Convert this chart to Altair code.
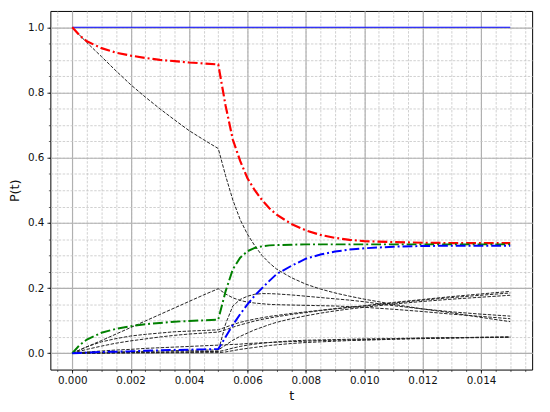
import altair as alt
import pandas as pd

T = [0.0, 0.00025, 0.0005, 0.001, 0.0015, 0.002, 0.0025, 0.003, 0.0035, 0.004, 0.0045, 0.005,
     0.00525, 0.0055, 0.00575, 0.006, 0.00625, 0.0065, 0.00675, 0.007, 0.0075, 0.008, 0.0085,
     0.009, 0.0095, 0.01, 0.011, 0.012, 0.013, 0.014, 0.015]

TOTAL = [1.0, 1.0, 1.0, 1.0, 1.0, 1.0, 1.0, 1.0, 1.0, 1.0, 1.0, 1.0, 1.0, 1.0, 1.0, 1.0,
         1.0, 1.0, 1.0, 1.0, 1.0, 1.0, 1.0, 1.0, 1.0, 1.0, 1.0, 1.0, 1.0, 1.0, 1.0]
RED = [1.0, 0.975, 0.957, 0.936, 0.922, 0.913, 0.906, 0.900, 0.896, 0.892, 0.889, 0.886,
       0.76, 0.655, 0.59, 0.537, 0.5, 0.47, 0.445, 0.425, 0.397, 0.377, 0.363, 0.354, 0.348,
       0.344, 0.341, 0.339, 0.338, 0.338, 0.338]
GREEN = [0.0, 0.025, 0.042, 0.063, 0.075, 0.083, 0.089, 0.093, 0.097, 0.099, 0.101, 0.103,
         0.19, 0.258, 0.293, 0.313, 0.323, 0.328, 0.331, 0.332, 0.333, 0.334, 0.334, 0.334,
         0.334, 0.334, 0.334, 0.334, 0.334, 0.334, 0.334]
BLUE = [0.0, 0.001, 0.002, 0.004, 0.005, 0.006, 0.008, 0.009, 0.010, 0.011, 0.012, 0.013,
        0.05, 0.087, 0.12, 0.15, 0.177, 0.2, 0.222, 0.243, 0.268, 0.29, 0.303, 0.312, 0.318,
        0.322, 0.327, 0.329, 0.33, 0.33, 0.33]

K1 = [1.0, 0.976, 0.953, 0.91, 0.866, 0.824, 0.786, 0.75, 0.716, 0.683, 0.655, 0.628,
      0.545, 0.47, 0.41, 0.365, 0.33, 0.3, 0.277, 0.258, 0.232, 0.212, 0.197, 0.185, 0.175,
      0.166, 0.15, 0.136, 0.124, 0.11, 0.097]
K2 = [0.0, 0.01, 0.02, 0.039, 0.059, 0.079, 0.099, 0.119, 0.139, 0.159, 0.179, 0.198,
      0.182, 0.17, 0.162, 0.157, 0.154, 0.152, 0.15, 0.149, 0.148, 0.147, 0.146, 0.145,
      0.143, 0.141, 0.135, 0.128, 0.12, 0.113, 0.106]
K3 = [0.0, 0.0, 0.001, 0.001, 0.002, 0.002, 0.003, 0.003, 0.004, 0.004, 0.005, 0.006,
      0.09, 0.145, 0.165, 0.175, 0.181, 0.183, 0.183, 0.182, 0.179, 0.175, 0.171, 0.167,
      0.163, 0.158, 0.146, 0.136, 0.127, 0.12, 0.114]
U1 = [0.0, 0.01, 0.02, 0.035, 0.045, 0.053, 0.058, 0.062, 0.066, 0.068, 0.07, 0.072,
      0.08, 0.088, 0.095, 0.1, 0.105, 0.109, 0.113, 0.116, 0.122, 0.127, 0.132, 0.137,
      0.141, 0.145, 0.154, 0.163, 0.171, 0.178, 0.185]
U2 = [0.0, 0.006, 0.012, 0.022, 0.031, 0.038, 0.044, 0.05, 0.055, 0.059, 0.062, 0.065,
      0.072, 0.08, 0.087, 0.093, 0.099, 0.104, 0.108, 0.112, 0.119, 0.125, 0.131, 0.136,
      0.141, 0.146, 0.156, 0.165, 0.174, 0.182, 0.19]
U3 = [0.0, 0.001, 0.002, 0.003, 0.004, 0.005, 0.006, 0.007, 0.008, 0.009, 0.0095, 0.01,
      0.025, 0.04, 0.052, 0.062, 0.072, 0.08, 0.088, 0.095, 0.106, 0.115, 0.123, 0.13,
      0.136, 0.141, 0.151, 0.159, 0.166, 0.172, 0.178]
B1 = [0.0, 0.002, 0.004, 0.007, 0.01, 0.012, 0.015, 0.017, 0.019, 0.021, 0.023, 0.025,
      0.026, 0.027, 0.028, 0.03, 0.031, 0.032, 0.033, 0.034, 0.036, 0.037, 0.039, 0.04,
      0.041, 0.042, 0.044, 0.046, 0.047, 0.049, 0.05]
B2 = [0.0, 0.0, 0.001, 0.001, 0.002, 0.002, 0.003, 0.003, 0.004, 0.004, 0.005, 0.005,
      0.01, 0.016, 0.021, 0.025, 0.028, 0.031, 0.033, 0.035, 0.038, 0.04, 0.041, 0.042,
      0.043, 0.044, 0.045, 0.047, 0.048, 0.049, 0.05]
B3 = [0.0, 0.0, 0.0, 0.0005, 0.0007, 0.001, 0.001, 0.0013, 0.0015, 0.0017, 0.0019, 0.002,
      0.004, 0.008, 0.012, 0.015, 0.018, 0.021, 0.024, 0.026, 0.03, 0.033, 0.035, 0.037,
      0.039, 0.04, 0.043, 0.045, 0.047, 0.048, 0.049]

X_MAJOR = [0.0, 0.002, 0.004, 0.006, 0.008, 0.010, 0.012, 0.014]
X_MINOR = [-0.0005, 0.0, 0.0005, 0.001, 0.0015, 0.002, 0.0025, 0.003, 0.0035, 0.004, 0.0045,
           0.005, 0.0055, 0.006, 0.0065, 0.007, 0.0075, 0.008, 0.0085, 0.009, 0.0095, 0.01,
           0.0105, 0.011, 0.0115, 0.012, 0.0125, 0.013, 0.0135, 0.014, 0.0145, 0.015, 0.0155]
Y_MAJOR = [0.0, 0.2, 0.4, 0.6, 0.8, 1.0]
Y_MINOR = [0.0, 0.05, 0.1, 0.15, 0.2, 0.25, 0.3, 0.35, 0.4, 0.45, 0.5, 0.55, 0.6, 0.65, 0.7,
           0.75, 0.8, 0.85, 0.9, 0.95, 1.0]


def frame(name, vals):
    return pd.DataFrame({"t": T, "p": vals, "s": name})


black_df = pd.concat([frame(n, v) for n, v in
                      [("k1", K1), ("k2", K2), ("k3", K3), ("u1", U1), ("u2", U2),
                       ("u3", U3), ("b1", B1), ("b2", B2), ("b3", B3)]])
total_df = frame("total", TOTAL)
red_df = frame("red", RED)
green_df = frame("green", GREEN)
blue_df = frame("blue", BLUE)

xs = alt.Scale(domain=[-0.00075, 0.01575], nice=False, zero=False)
ys = alt.Scale(domain=[-0.05, 1.05], nice=False, zero=False)

X_NO = alt.X("t:Q", scale=xs, axis=None)
Y_NO = alt.Y("p:Q", scale=ys, axis=None)

minor = alt.Chart(black_df).mark_line(strokeOpacity=0).encode(
    x=alt.X("t:Q", scale=xs, axis=alt.Axis(
        values=X_MINOR, labels=False, title=None, tickSize=2, tickColor="black",
        tickWidth=0.6, grid=True, gridDash=[2.5, 1.5], gridColor="#c4c4c4", gridWidth=0.8,
        domain=False, orient="bottom")),
    y=alt.Y("p:Q", scale=ys, axis=alt.Axis(
        values=Y_MINOR, labels=False, title=None, tickSize=2, tickColor="black",
        tickWidth=0.6, grid=True, gridDash=[2.5, 1.5], gridColor="#c4c4c4", gridWidth=0.8,
        domain=False, orient="left")),
    detail="s:N",
)

black = alt.Chart(black_df).mark_line(
    color="#222222", strokeWidth=1.0, strokeDash=[3.5, 1.5]
).encode(
    x=alt.X("t:Q", scale=xs, axis=alt.Axis(
        values=X_MAJOR, format=".3f", title="t", tickSize=3.5, tickColor="black",
        tickWidth=0.8, grid=True, gridColor="#b0b0b0", gridWidth=1.2, domain=False,
        orient="bottom", labelPadding=3, titlePadding=3)),
    y=alt.Y("p:Q", scale=ys, axis=alt.Axis(
        values=Y_MAJOR, format=".1f", title="P(t)", tickSize=3.5, tickColor="black",
        tickWidth=0.8, grid=True, gridColor="#b0b0b0", gridWidth=1.2, domain=False,
        orient="left", labelPadding=3, titlePadding=6)),
    detail="s:N",
)

total = alt.Chart(total_df).mark_line(color="#0000ff", strokeWidth=1.1).encode(x=X_NO, y=Y_NO)
red = alt.Chart(red_df).mark_line(
    color="#ff0000", strokeWidth=2.2, strokeDash=[10, 3, 2, 3]).encode(x=X_NO, y=Y_NO)
green = alt.Chart(green_df).mark_line(
    color="#008000", strokeWidth=2.0, strokeDash=[10, 3, 2, 3]).encode(x=X_NO, y=Y_NO)
blue = alt.Chart(blue_df).mark_line(
    color="#0000ff", strokeWidth=2.0, strokeDash=[10, 3, 2, 3]).encode(x=X_NO, y=Y_NO)

chart = alt.layer(minor, black, total, red, green, blue).resolve_axis(
    x="independent", y="independent"
).properties(
    width=489, height=364,
    autosize=alt.AutoSizeParams(type="none"),
    padding={"left": 43, "top": 0, "right": 10, "bottom": 36},
).configure_view(
    stroke="black", strokeWidth=1
).configure_axis(
    labelFont="DejaVu Sans", labelFontSize=10.5, labelColor="#111",
    titleFont="DejaVu Sans", titleFontSize=13, titleFontWeight="normal", titleColor="#111",
)

chart.save("out.html", embed_options={"renderer": "svg", "actions": False})
